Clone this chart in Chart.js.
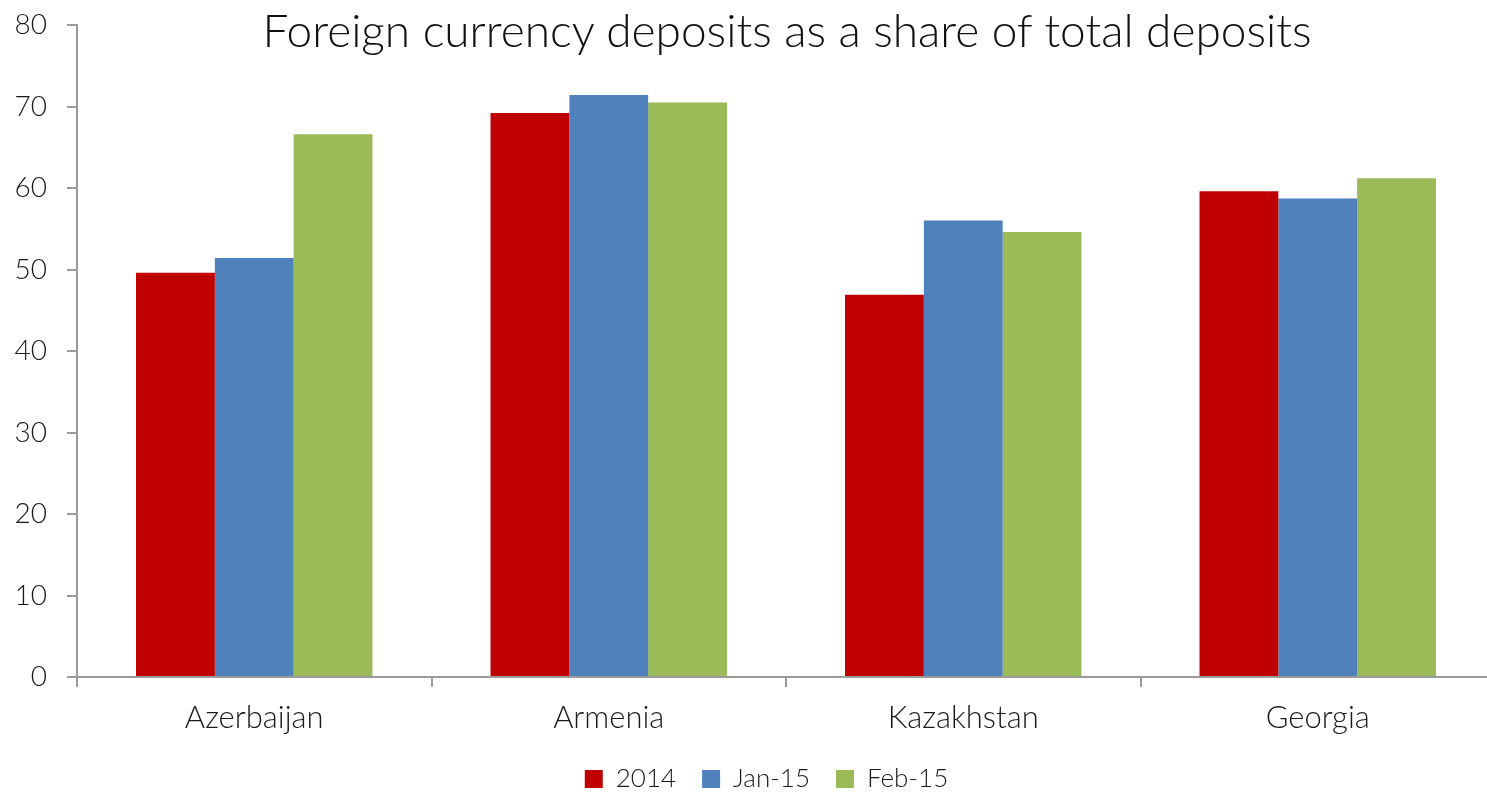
<!DOCTYPE html>
<html>
<head>
<meta charset="utf-8">
<script src="https://cdn.jsdelivr.net/npm/chart.js@4.4.1/dist/chart.umd.min.js"></script>
<style>
  html, body { margin: 0; padding: 0; background: #fff; overflow: hidden; }
  #wrap { position: relative; width: 1495px; height: 792px; }
  #title {
    position: absolute; top: 2px; left: 787px; transform: translateX(-50%);
    white-space: nowrap; font-family: Lato, "Open Sans", sans-serif; font-weight: 300;
    font-size: 46px; color: #111; pointer-events: none;
  }
</style>
</head>
<body>
<div id="wrap">
  <canvas id="c" width="1495" height="792"></canvas>
  <div id="title">Foreign currency deposits as a share of total deposits</div>
</div>
<script>
const categories = ["Azerbaijan", "Armenia", "Kazakhstan", "Georgia"];
const seriesNames = ["2014", "Jan-15", "Feb-15"];
const values2014 = [49.6, 69.2, 46.9, 59.6];
const valuesJan15 = [51.4, 71.4, 56.0, 58.7];
const valuesFeb15 = [66.6, 70.5, 54.6, 61.2];
const yTicks = [0, 10, 20, 30, 40, 50, 60, 70, 80];

const axisColor = "#9a9a9a";
const textColor = "#1a1a1a";
const fontFamily = "Lato, 'Open Sans', sans-serif";

const legendShift = {
  id: "legendShift",
  afterLayout(chart) { if (chart.legend) chart.legend.left += 38; }
};

new Chart(document.getElementById("c"), {
  type: "bar",
  data: {
    labels: categories,
    datasets: [
      { label: seriesNames[0], data: values2014, backgroundColor: "#C00000" },
      { label: seriesNames[1], data: valuesJan15, backgroundColor: "#4F81BD" },
      { label: seriesNames[2], data: valuesFeb15, backgroundColor: "#9BBB59" }
    ]
  },
  plugins: [legendShift],
  options: {
    responsive: false,
    animation: false,
    devicePixelRatio: 1,
    layout: { padding: { top: 25, left: 0, right: 0, bottom: -10 } },
    datasets: { bar: { categoryPercentage: 0.667, barPercentage: 1.0 } },
    plugins: {
      tooltip: { enabled: false },
      title: { display: false },
      legend: {
        position: "bottom",
        labels: {
          font: { family: fontFamily, size: 26, weight: 300 },
          color: textColor,
          boxWidth: 18,
          boxHeight: 18,
          padding: 26
        }
      }
    },
    scales: {
      x: {
        grid: { display: true, drawOnChartArea: false, drawTicks: true, tickLength: 10, color: axisColor, lineWidth: 2 },
        border: { display: true, color: axisColor, width: 2 },
        ticks: { font: { family: fontFamily, size: 31, weight: 300 }, color: textColor, padding: 12 },
        afterFit: (s) => { s.height = 63; s.paddingLeft = 0; s.paddingRight = 0; }
      },
      y: {
        min: 0, max: 80,
        afterBuildTicks: (s) => { s.ticks = yTicks.map(v => ({ value: v })); },
        grid: { display: true, drawOnChartArea: false, drawTicks: true, tickLength: 10, color: axisColor, lineWidth: 2 },
        border: { display: true, color: axisColor, width: 2 },
        ticks: { font: { family: fontFamily, size: 28, weight: 300 }, color: textColor, padding: 20 },
        afterFit: (s) => { s.width = 77; s.paddingTop = 0; s.paddingBottom = 0; }
      }
    }
  }
});
</script>
</body>
</html>
